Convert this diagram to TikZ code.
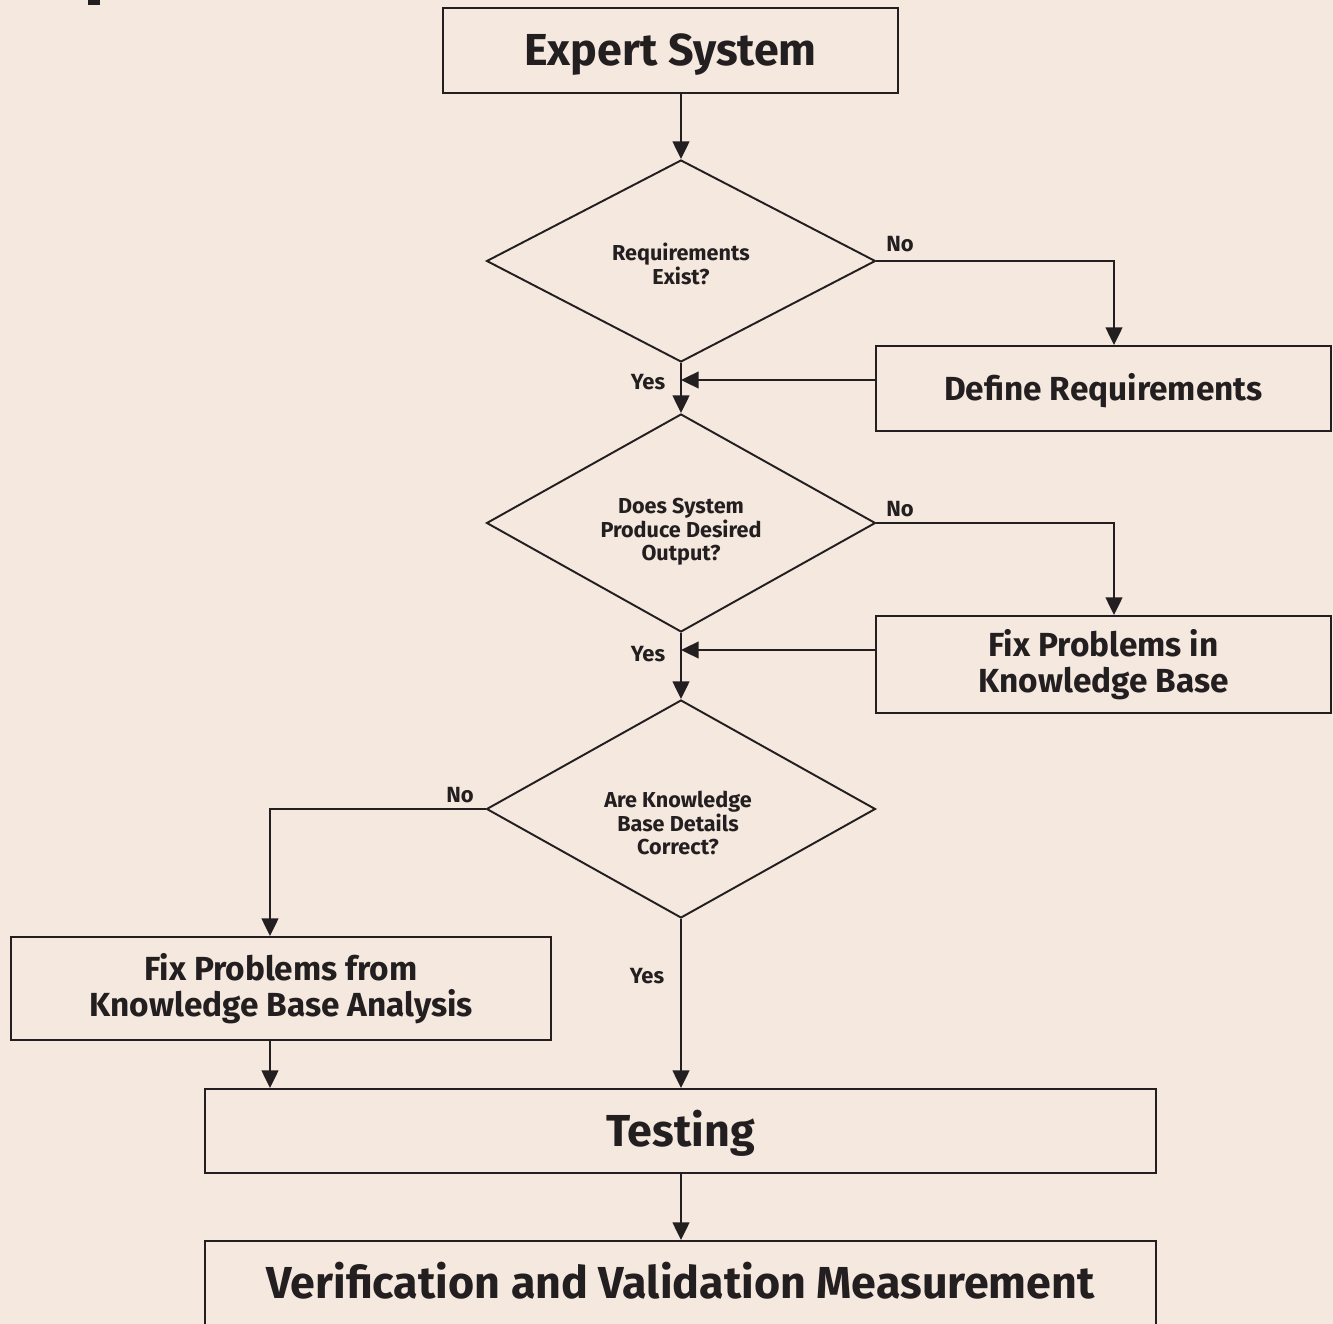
\documentclass[tikz,border=0pt]{standalone}
\usepackage{fontspec}
\setmainfont{Fira Sans}
\usetikzlibrary{arrows.meta,shapes.geometric}
\definecolor{bg}{HTML}{F5E8DE}
\definecolor{ink}{HTML}{231F20}
\begin{document}
\begin{tikzpicture}[x=0.02cm,y=-0.02cm,
  every node/.style={text=ink,font=\bfseries},
  boxnode/.style={draw=ink,line width=1.1pt,rectangle,inner sep=0pt,align=center},
  bigtxt/.style={font=\bfseries\fontsize{25.5}{30}\selectfont,text height=17.6pt,text depth=0pt},
  midtxt/.style={font=\bfseries\fontsize{19}{20.4}\selectfont},
  onetxt/.style={text height=13.1pt,text depth=0pt},
  dia/.style={draw=ink,line width=1.1pt,diamond,inner sep=0pt,minimum width=7.78cm},
  dtxt/.style={align=center,inner sep=0pt,font=\bfseries\fontsize{12.3}{13.3}\selectfont},
  lbl/.style={font=\bfseries\fontsize{12.5}{14}\selectfont,inner sep=0pt},
  arr/.style={draw=ink,line width=1.1pt,-{Triangle[length=10pt,width=9.5pt]}}]
\useasboundingbox (0,0) rectangle (1333,1324);
\clip (0,0) rectangle (1333,1324);
\fill[bg] (0,0) rectangle (1333,1324);
\fill[ink] (88,0) rectangle (100,5);
% boxes
\node[boxnode,bigtxt,minimum width=9.1cm,minimum height=1.7cm] (exp) at (670.5,50.5) {Expert System};
\node[dia,minimum height=4.04cm] (d1) at (681,261) {};
\node[dtxt] (d1t) at (681,264) {Requirements\\Exist?};
\node[boxnode,midtxt,onetxt,minimum width=9.1cm,minimum height=1.7cm] (def) at (1103.5,388.5) {Define Requirements};
\node[dia,minimum height=4.36cm] (d2) at (681,523) {};
\node[dtxt] (d2t) at (681,532) {Does System\\Produce Desired\\Output?};
\node[boxnode,midtxt,minimum width=9.1cm,minimum height=1.94cm] (fix1) at (1103.5,664.5) {Fix Problems in\\Knowledge Base};
\node[dia,minimum height=4.36cm] (d3) at (681,809) {};
\node[dtxt] (d3t) at (678,823) {Are Knowledge\\Base Details\\Correct?};
\node[boxnode,midtxt,minimum width=10.8cm,minimum height=2.06cm] (fix2) at (281,988.5) {Fix Problems from\\Knowledge Base Analysis};
\node[boxnode,bigtxt,minimum width=19.02cm,minimum height=1.68cm] (test) at (680.5,1131) {Testing};
\node[boxnode,bigtxt,minimum width=19.02cm,minimum height=1.68cm] (vv) at (680.5,1283) {Verification and Validation Measurement};
% labels
\node[lbl] (no1) at (900,244) {No};
\node[lbl] (yes1) at (648,382) {Yes};
\node[lbl] (no2) at (900,509) {No};
\node[lbl] (yes2) at (648,654) {Yes};
\node[lbl] (no3) at (460,795) {No};
\node[lbl] (yes3) at (647,976) {Yes};
% helper coordinates
\coordinate (defin) at ([xshift=0.21cm]def.north);
\coordinate (defout) at ([yshift=0.17cm]def.west);
\coordinate (fix1in) at ([xshift=0.21cm]fix1.north);
\coordinate (fix1out) at ([yshift=0.29cm]fix1.west);
\coordinate (fix2in) at ([xshift=-0.22cm]fix2.north);
\coordinate (fix2out) at ([xshift=-0.22cm]fix2.south);
% connectors
\draw[arr] (d1.north |- exp.south) -- (d1.north);
\draw[arr] (d1.east) -| (defin);
\draw[arr] (defout) -- (d1.south |- defout);
\draw[arr] (d1.south) -- (d2.north);
\draw[arr] (d2.east) -| (fix1in);
\draw[arr] (fix1out) -- (d2.south |- fix1out);
\draw[arr] (d2.south) -- (d3.north);
\draw[arr] (d3.west) -| (fix2in);
\draw[arr] (fix2out) -- (fix2out |- test.north);
\draw[arr] (d3.south) -- (d3.south |- test.north);
\draw[arr] (d3.south |- test.south) -- (d3.south |- vv.north);
\end{tikzpicture}
\end{document}
